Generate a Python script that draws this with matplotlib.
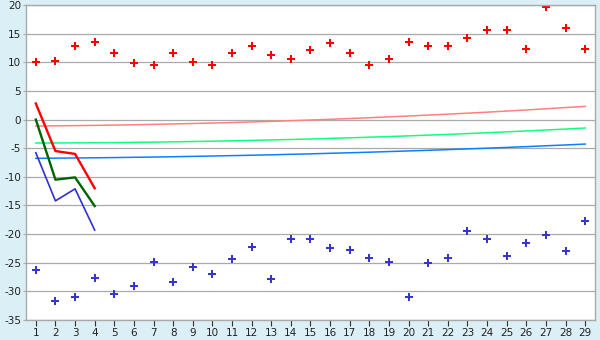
import matplotlib
matplotlib.use("Agg")
import matplotlib.pyplot as plt

plt.rcParams["axes.unicode_minus"] = False

x = list(range(1, 30))

upper_pts = [10.0, 10.2, 12.9, 13.6, 11.6, 9.8, 9.6, 11.6, 10.0, 9.5,
             11.6, 12.9, 11.2, 10.5, 12.1, 13.3, 11.6, 9.5, 10.5, 13.6,
             12.8, 12.8, 14.3, 15.7, 15.7, 12.4, 19.6, 15.9, 12.3]
lower_pts = [-26.3, -31.7, -30.9, -27.6, -30.4, -29.0, -24.9, -28.3, -25.8, -27.0,
             -24.4, -22.3, -27.9, -20.9, -20.9, -22.5, -22.8, -24.1, -24.8, -31.0,
             -25.1, -24.2, -19.5, -20.9, -23.9, -21.6, -20.2, -23.0, -17.8]

x_short = [1, 2, 3, 4]
red_line = [2.8, -5.5, -6.0, -12.0]
green_line = [0.0, -10.5, -10.1, -15.1]
blue_line = [-5.8, -14.2, -12.1, -19.3]

pink_trend = [-1.13, -1.10, -1.06, -1.02, -0.97, -0.91, -0.84, -0.77, -0.69, -0.61,
              -0.52, -0.42, -0.32, -0.20, -0.08, 0.04, 0.18, 0.32, 0.47, 0.62,
              0.78, 0.94, 1.11, 1.29, 1.48, 1.67, 1.88, 2.09, 2.30]
green_trend = [-4.10, -4.09, -4.07, -4.05, -4.02, -3.98, -3.94, -3.89, -3.84, -3.78,
               -3.71, -3.64, -3.56, -3.48, -3.39, -3.29, -3.19, -3.08, -2.97, -2.85,
               -2.72, -2.59, -2.45, -2.30, -2.15, -1.99, -1.83, -1.66, -1.48]
blue_trend = [-6.77, -6.74, -6.71, -6.68, -6.64, -6.59, -6.55, -6.49, -6.43, -6.37,
              -6.30, -6.23, -6.16, -6.07, -5.99, -5.89, -5.80, -5.70, -5.59, -5.48,
              -5.37, -5.25, -5.13, -5.00, -4.87, -4.73, -4.58, -4.44, -4.28]

y_ticks = list(range(-35, 25, 5))
y_labels = [str(v) for v in y_ticks]

bg = "#daeff6"
gridc = "#aaaaaa"

fig = plt.figure(figsize=(6, 3.4), dpi=100, facecolor=bg)
ax = fig.add_axes([26/600, 20/340, 569/600, 315/340])
ax.set_facecolor("white")

ax.set_xlim(0.5, 29.5)
ax.set_ylim(-35, 20)
ax.set_yticks(y_ticks)
ax.set_yticklabels(y_labels)
ax.set_xticks(x)
ax.grid(axis="y", color=gridc, linewidth=0.9)
ax.set_axisbelow(True)
for s in ax.spines.values():
    s.set_color(gridc)
    s.set_linewidth(1.0)

ax.tick_params(axis="y", length=2, color=gridc, labelsize=7.5, labelcolor="#222222", pad=1.5)
ax.tick_params(axis="x", length=4, color="#333333", labelsize=7.5, labelcolor="#222222", pad=2)

ax.plot(x, pink_trend, color="#ff8080", lw=1.1)
ax.plot(x, green_trend, color="#10ff80", lw=1.1)
ax.plot(x, blue_trend, color="#0a80ff", lw=1.1)

ax.plot(x_short, red_line, color="#ff0000", lw=1.7)
ax.plot(x_short, green_line, color="#006400", lw=1.7)
ax.plot(x_short, blue_line, color="#3030d0", lw=1.2)

ax.plot(x, upper_pts, linestyle="none", marker="P", markersize=6, color="#ff0000",
        markeredgewidth=0)
ax.plot(x, lower_pts, linestyle="none", marker="P", markersize=6, color="#3636cc",
        markeredgewidth=0)

fig.savefig("out.png", dpi=100, facecolor=bg)
